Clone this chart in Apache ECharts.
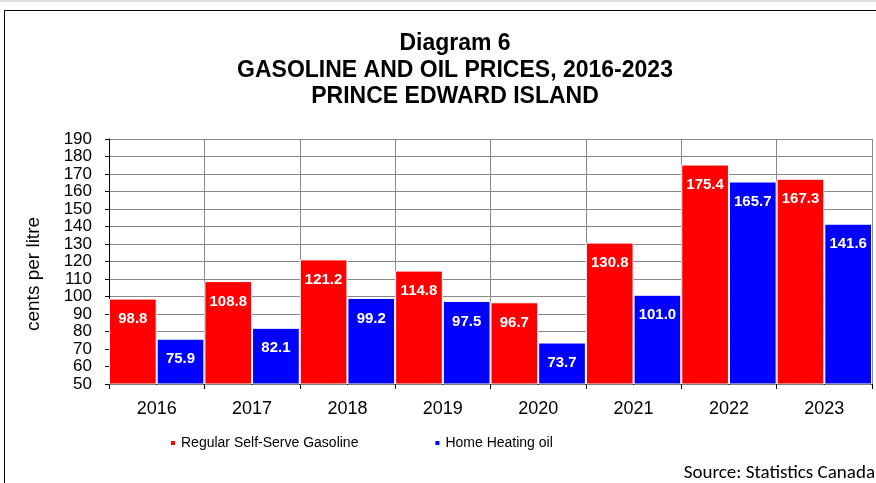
<!DOCTYPE html>
<html>
<head>
<meta charset="utf-8">
<script src="https://cdn.jsdelivr.net/npm/echarts@6/dist/echarts.min.js"></script>
<style>
html,body{margin:0;padding:0;background:#fff;}
#main{width:876px;height:483px;}
</style>
</head>
<body>
<div id="main"></div>
<script>
var years = ['2016','2017','2018','2019','2020','2021','2022','2023'];
var gasoline = [98.8, 108.8, 121.2, 114.8, 96.7, 130.8, 175.4, 167.3];
var heatingOil = [75.9, 82.1, 99.2, 97.5, 73.7, 101.0, 165.7, 141.6];
var seriesNames = ['Regular Self-Serve Gasoline', 'Home Heating oil'];
var titleLines = ['Diagram 6', 'GASOLINE AND OIL PRICES, 2016-2023', 'PRINCE EDWARD ISLAND'];

var chart = echarts.init(document.getElementById('main'));

var barLabel = {
    show: true,
    position: 'insideTop',
    distance: 13,
    color: '#fff',
    fontFamily: 'Arial, Liberation Sans, sans-serif',
    fontWeight: 'bold',
    fontSize: 15,
    formatter: function (p) { return p.value.toFixed(1); }
};

var titleFont = "bold 23px Arial, 'Liberation Sans', sans-serif";

var option = {
    animation: false,
    backgroundColor: '#fff',
    graphic: [
        {type: 'line', shape: {x1: 0, y1: 1, x2: 876, y2: 1}, style: {stroke: '#bbb', lineWidth: 1}},
        {type: 'polyline', shape: {points: [[4.5, 483], [4.5, 10.5], [876, 10.5]]}, style: {stroke: '#000', lineWidth: 1, fill: null}},
        {type: 'text', x: 455, y: 44, style: {text: titleLines[0], font: titleFont, align: 'center', verticalAlign: 'middle', fill: '#000'}},
        {type: 'text', x: 455, y: 71, style: {text: titleLines[1], font: titleFont, align: 'center', verticalAlign: 'middle', fill: '#000'}},
        {type: 'text', x: 455, y: 97, style: {text: titleLines[2], font: titleFont, align: 'center', verticalAlign: 'middle', fill: '#000'}},
        {type: 'text', x: 34, y: 274, rotation: Math.PI / 2, style: {text: 'cents per litre', font: "19px Arial, 'Liberation Sans', sans-serif", align: 'center', verticalAlign: 'middle', fill: '#000'}},
        {type: 'text', x: 875, y: 473, style: {text: 'Source: Statistics Canada', font: "19px Carlito, Calibri, 'Liberation Sans', sans-serif", align: 'right', verticalAlign: 'middle', fill: '#000'}}
    ],
    legend: {
        left: 164,
        top: 431,
        icon: 'rect',
        itemWidth: 6,
        itemHeight: 6,
        itemGap: 75,
        textStyle: {fontFamily: 'Arial, Liberation Sans, sans-serif', fontSize: 14, color: '#000'},
        data: seriesNames
    },
    grid: {left: 109, right: 4, top: 139, bottom: 99, containLabel: false},
    xAxis: {
        type: 'category',
        data: years,
        boundaryGap: true,
        axisLine: {lineStyle: {color: '#000', width: 1}},
        axisTick: {show: true, length: 5, inside: false, lineStyle: {color: '#000'}},
        axisLabel: {margin: 16, fontSize: 18, color: '#000', fontFamily: 'Arial, Liberation Sans, sans-serif'},
        splitLine: {show: true, lineStyle: {color: '#888', width: 1}}
    },
    yAxis: {
        type: 'value',
        min: 50,
        max: 190,
        interval: 10,
        axisLine: {show: true, lineStyle: {color: '#000', width: 1}},
        axisTick: {show: true, length: 4, lineStyle: {color: '#000'}},
        axisLabel: {margin: 17, fontSize: 17, color: '#000', fontFamily: 'Arial, Liberation Sans, sans-serif'},
        splitLine: {show: true, lineStyle: {color: '#888', width: 1}}
    },
    series: [
        {
            name: seriesNames[0],
            type: 'bar',
            data: gasoline,
            barGap: '0%',
            barCategoryGap: '0%',
            itemStyle: {color: '#ff0000', borderColor: '#fff', borderWidth: 1},
            label: barLabel
        },
        {
            name: seriesNames[1],
            type: 'bar',
            data: heatingOil,
            itemStyle: {color: '#0000ff', borderColor: '#fff', borderWidth: 1},
            label: barLabel
        }
    ]
};

chart.setOption(option);
</script>
</body>
</html>
